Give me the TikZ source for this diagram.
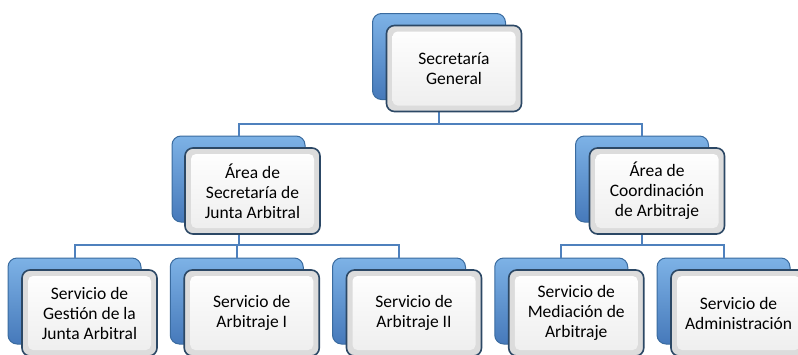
\documentclass[tikz,border=0pt]{standalone}
\usepackage{fontspec}
\setmainfont{Carlito}
\definecolor{conncol}{HTML}{4F81BD}
\definecolor{backtop}{HTML}{7DB2E6}
\definecolor{backbot}{HTML}{4679BA}
\definecolor{backedge}{HTML}{3A6B9F}
\definecolor{frontedge}{HTML}{2C4865}
\definecolor{bevel}{HTML}{DCDCDC}
\begin{document}
\begin{tikzpicture}[x=1pt,y=1pt,
  backbox/.style={draw=backedge, line width=1pt, top color=backtop, bottom color=backbot,
    rounded corners=9pt, minimum width=133pt, minimum height=86pt, inner sep=0pt, outer sep=0pt},
  frontbox/.style={draw=frontedge, line width=1.6pt, fill=bevel, rounded corners=8pt,
    minimum width=135pt, minimum height=86pt, inner sep=0pt, outer sep=0pt, align=center,
    font=\fontsize{17.5}{20}\selectfont, text=black,
    path picture={\shade[top color=white, bottom color=white!93!black, rounded corners=5pt]
      ([shift={(6pt,6pt)}]path picture bounding box.south west) rectangle
      ([shift={(-6pt,-6pt)}]path picture bounding box.north east);}},
  conn/.style={draw=conncol, line width=2pt}]
\useasboundingbox (0,0) rectangle (798,-354);
\clip (0,0) rectangle (798,-354);
% back boxes
\node[backbox] (b1) at (439,-56.5) {};
\node[backbox] (b2) at (238.5,-179) {};
\node[backbox] (b3) at (642,-179) {};
\node[backbox] (c1) at (74.5,-301) {};
\node[backbox] (c2) at (236.75,-301) {};
\node[backbox] (c3) at (399,-301) {};
\node[backbox] (c4) at (561.25,-301) {};
\node[backbox] (c5) at (723.5,-301) {};
% connectors
\coordinate (j1) at (439,-124);
\coordinate (j2) at (238.5,-245);
\coordinate (j3) at (642,-245);
\draw[conn] (b1.south) -- (j1);
\draw[conn] (j1) -| (b2.north);
\draw[conn] (j1) -| (b3.north);
\draw[conn] (b2.south) -- (j2);
\draw[conn] (j2) -| (c1.north);
\draw[conn] (j2) -| (c2.north);
\draw[conn] (j2) -| (c3.north);
\draw[conn] (b3.south) -- (j3);
\draw[conn] (j3) -| (c4.north);
\draw[conn] (j3) -| (c5.north);
% front boxes
\node[frontbox] (f1) at (454,-68.5) {Secretaría\\General};
\node[frontbox] (f2) at (252.5,-191) {Área de\\Secretaría de\\Junta Arbitral};
\node[frontbox] (f3) at (657,-191) {Área de\\Coordinación\\de Arbitraje};
\node[frontbox] (g1) at (89.5,-313) {Servicio de\\Gestión de la\\Junta Arbitral};
\node[frontbox] (g2) at (251.75,-313) {Servicio de\\Arbitraje I};
\node[frontbox] (g3) at (414,-313) {Servicio de\\Arbitraje II};
\node[frontbox] (g4) at (576.25,-313) {Servicio de\\Mediación de\\Arbitraje};
\node[frontbox] (g5) at (738.5,-313) {Servicio de\\Administración};
\end{tikzpicture}
\end{document}
